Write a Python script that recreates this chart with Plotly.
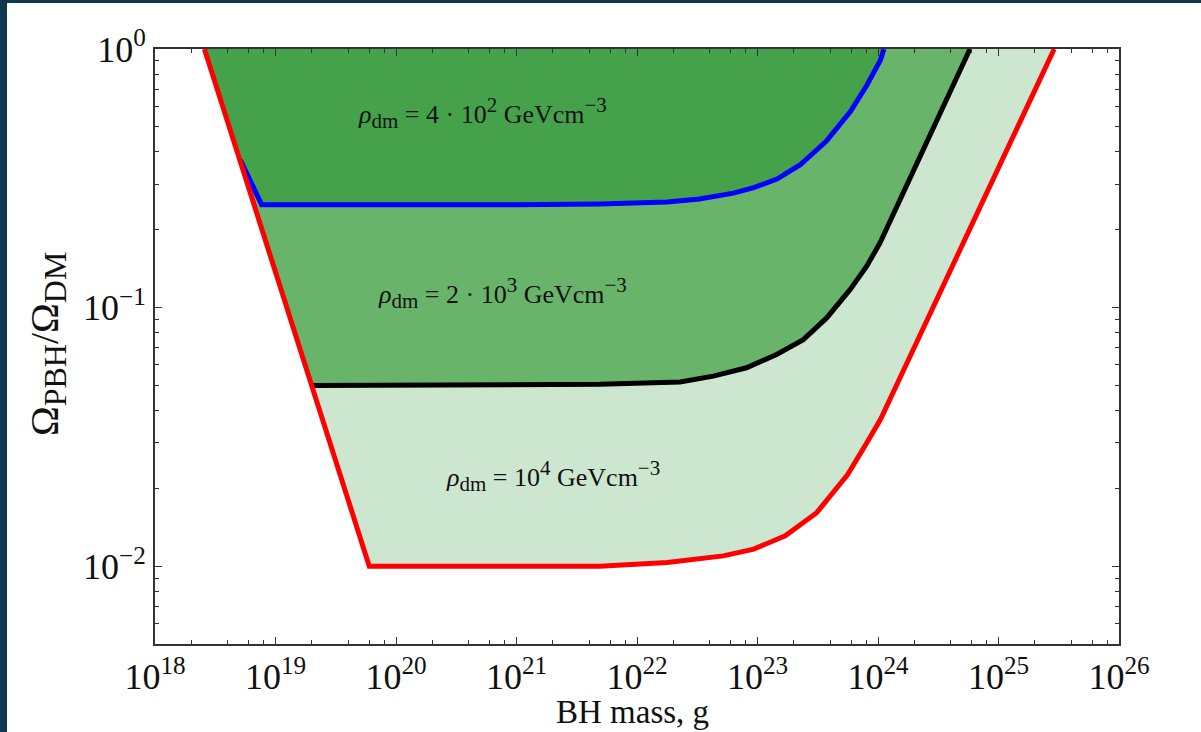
import math
import plotly.graph_objects as go

# ---------------- data ----------------
# red curve : rho_dm = 1e4 GeV/cm^3
red_mass = [2.57e18, 2.0e19, 6.0e19, 1.0e21, 4.9e21, 1.78e22, 5.2e22, 9.3e22,
            1.7e23, 3.1e23, 5.6e23, 8.1e23, 1.05e24, 1.5e24, 4.8e24, 2.9e25]
red_omega = [1.0, 0.05, 0.01, 0.01, 0.01, 0.01033, 0.01096, 0.01164,
             0.0131, 0.0161, 0.0226, 0.0301, 0.037, 0.0527, 0.1675, 1.0]

# black curve : rho_dm = 2e3 GeV/cm^3
black_mass = [2.0e19, 1.0e21, 4.9e21, 2.28e22, 4.3e22, 8.1e22, 1.44e23, 2.4e23,
              3.75e23, 5.86e23, 8.06e23, 1.04e24, 1.26e24, 2.88e24, 5.8e24]
black_omega = [0.05, 0.05, 0.0505, 0.0516, 0.0543, 0.0585, 0.0659, 0.0752,
               0.0912, 0.1173, 0.1445, 0.178, 0.2155, 0.497, 1.0]

# blue curve : rho_dm = 4e2 GeV/cm^3
blue_mass = [5.1e18, 7.67e18, 1.0e21, 4.9e21, 1.78e22, 3.3e22, 6.3e22, 9.3e22,
             1.45e23, 2.25e23, 3.7e23, 5.9e23, 8.1e23, 1.05e24, 1.12e24]
blue_omega = [0.3727, 0.25, 0.25, 0.2515, 0.256, 0.263, 0.277, 0.291,
              0.314, 0.356, 0.4385, 0.573, 0.726, 0.908, 1.0]

x_tick_vals = [1e18, 1e19, 1e20, 1e21, 1e22, 1e23, 1e24, 1e25, 1e26]
x_tick_text = ["10<sup>18</sup>", "10<sup>19</sup>", "10<sup>20</sup>", "10<sup>21</sup>",
               "10<sup>22</sup>", "10<sup>23</sup>", "10<sup>24</sup>", "10<sup>25</sup>",
               "10<sup>26</sup>"]
y_tick_vals = [1e-2, 1e-1, 1e0]
y_tick_text = ["10<sup>\u22122</sup>", "10<sup>\u22121</sup>", "10<sup>0</sup>"]

S = "<span style='font-size:21px'>"
E = "</span>"
labels = ["<i>\u03c1</i><sub>" + S + "dm" + E + "</sub> = 4 \u00b7 10<sup>" + S + "2" + E
          + "</sup> GeVcm<sup>" + S + "\u22123" + E + "</sup>",
          "<i>\u03c1</i><sub>" + S + "dm" + E + "</sub> = 2 \u00b7 10<sup>" + S + "3" + E
          + "</sup> GeVcm<sup>" + S + "\u22123" + E + "</sup>",
          "<i>\u03c1</i><sub>" + S + "dm" + E + "</sub> = 10<sup>" + S + "4" + E
          + "</sup> GeVcm<sup>" + S + "\u22123" + E + "</sup>"]
label_mass = [5.25e20, 7.7e20, 2.0e21]
label_omega = [0.566, 0.114, 0.0224]

x_title = "BH mass, g"
SY = "<span style='font-size:32px'>"
y_title = "\u03a9<sub>" + SY + "PBH" + E + "</sub>/\u03a9<sub>" + SY + "DM" + E + "</sub>"

# ---------------- styling ----------------
W, H = 1201, 732
ML, MR, MT, MB = 155, 82, 49, 88
FONT = "Liberation Serif"
DARK = "#46a24a"
MID = "#68b46b"
LIGHT = "#cde6cf"
LW = 5

fig = go.Figure()

# light region: inside red curve
fig.add_trace(go.Scatter(x=red_mass, y=red_omega, fill="toself", fillcolor=LIGHT,
                         mode="none", hoverinfo="skip", showlegend=False))
# medium region: inside black curve (left edge = red)
fig.add_trace(go.Scatter(x=red_mass[:1] + black_mass, y=red_omega[:1] + black_omega,
                         fill="toself", fillcolor=MID, mode="none",
                         hoverinfo="skip", showlegend=False))
# dark region: inside blue curve (left edge = red)
fig.add_trace(go.Scatter(x=red_mass[:1] + blue_mass, y=red_omega[:1] + blue_omega,
                         fill="toself", fillcolor=DARK, mode="none",
                         hoverinfo="skip", showlegend=False))

fig.add_trace(go.Scatter(x=blue_mass, y=blue_omega, mode="lines",
                         line=dict(color="#0000ff", width=LW), showlegend=False))
fig.add_trace(go.Scatter(x=black_mass, y=black_omega, mode="lines",
                         line=dict(color="#000000", width=LW), showlegend=False))
fig.add_trace(go.Scatter(x=red_mass, y=red_omega, mode="lines",
                         line=dict(color="#ff0000", width=LW), showlegend=False))

# annotations on log axes take log10 positions
for txt, xm, yo in zip(labels, label_mass, label_omega):
    fig.add_annotation(x=math.log10(xm), y=math.log10(yo), xref="x", yref="y",
                       text=txt, showarrow=False,
                       font=dict(family=FONT, size=26, color="#111111"))

pw, ph = W - ML - MR, H - MT - MB
def px_x(p):
    return (p - ML) / pw
def px_y(p):
    return (H - MB - p) / ph

# axis titles
fig.add_annotation(x=px_x(632), y=px_y(712), xref="paper", yref="paper", text=x_title,
                   showarrow=False, xanchor="center", yanchor="middle",
                   font=dict(family=FONT, size=33, color="#111111"))
fig.add_annotation(x=px_x(47), y=px_y(344), xref="paper", yref="paper", text=y_title,
                   showarrow=False, xanchor="center", yanchor="middle", textangle=-90,
                   font=dict(family=FONT, size=40, color="#111111"))

minor_x = [float(m) * 10.0 ** e for e in range(18, 26) for m in (2, 4, 6, 8)]
minor_y = [float(m) * 10.0 ** e for e in (-3, -2, -1) for m in range(2, 10)]

axis_common = dict(type="log", showgrid=False, zeroline=False, showline=True,
                   linecolor="#333333", linewidth=2, mirror="ticks",
                   ticks="inside", ticklen=7, tickwidth=1.3, tickcolor="#333333",
                   tickfont=dict(family=FONT, size=36, color="#111111"))

fig.update_xaxes(**axis_common, range=[18, 26], tickvals=x_tick_vals, ticktext=x_tick_text,
                 minor=dict(tickvals=minor_x, ticks="inside", ticklen=4,
                            tickcolor="#333333", tickwidth=1.1, showgrid=False))
fig.update_yaxes(**axis_common, range=[-2.301, 0], tickvals=y_tick_vals, ticktext=y_tick_text,
                 minor=dict(tickvals=minor_y, ticks="inside", ticklen=4,
                            tickcolor="#333333", tickwidth=1.1, showgrid=False))

# dark frame band on the top and left edges of the picture
frame = "#11394e"
fig.add_shape(type="rect", xref="paper", yref="paper", x0=px_x(0), x1=px_x(7),
              y0=px_y(H), y1=px_y(0), fillcolor=frame, line=dict(width=0), layer="above")
fig.add_shape(type="rect", xref="paper", yref="paper", x0=px_x(0), x1=px_x(W),
              y0=px_y(3), y1=px_y(0), fillcolor=frame, line=dict(width=0), layer="above")

fig.update_layout(width=W, height=H, margin=dict(l=ML, r=MR, t=MT, b=MB),
                  paper_bgcolor="white", plot_bgcolor="white",
                  font=dict(family=FONT, color="#111111"))

fig.write_html("out.html", config={"displayModeBar": False},
               post_script="document.body.style.margin='0';")
